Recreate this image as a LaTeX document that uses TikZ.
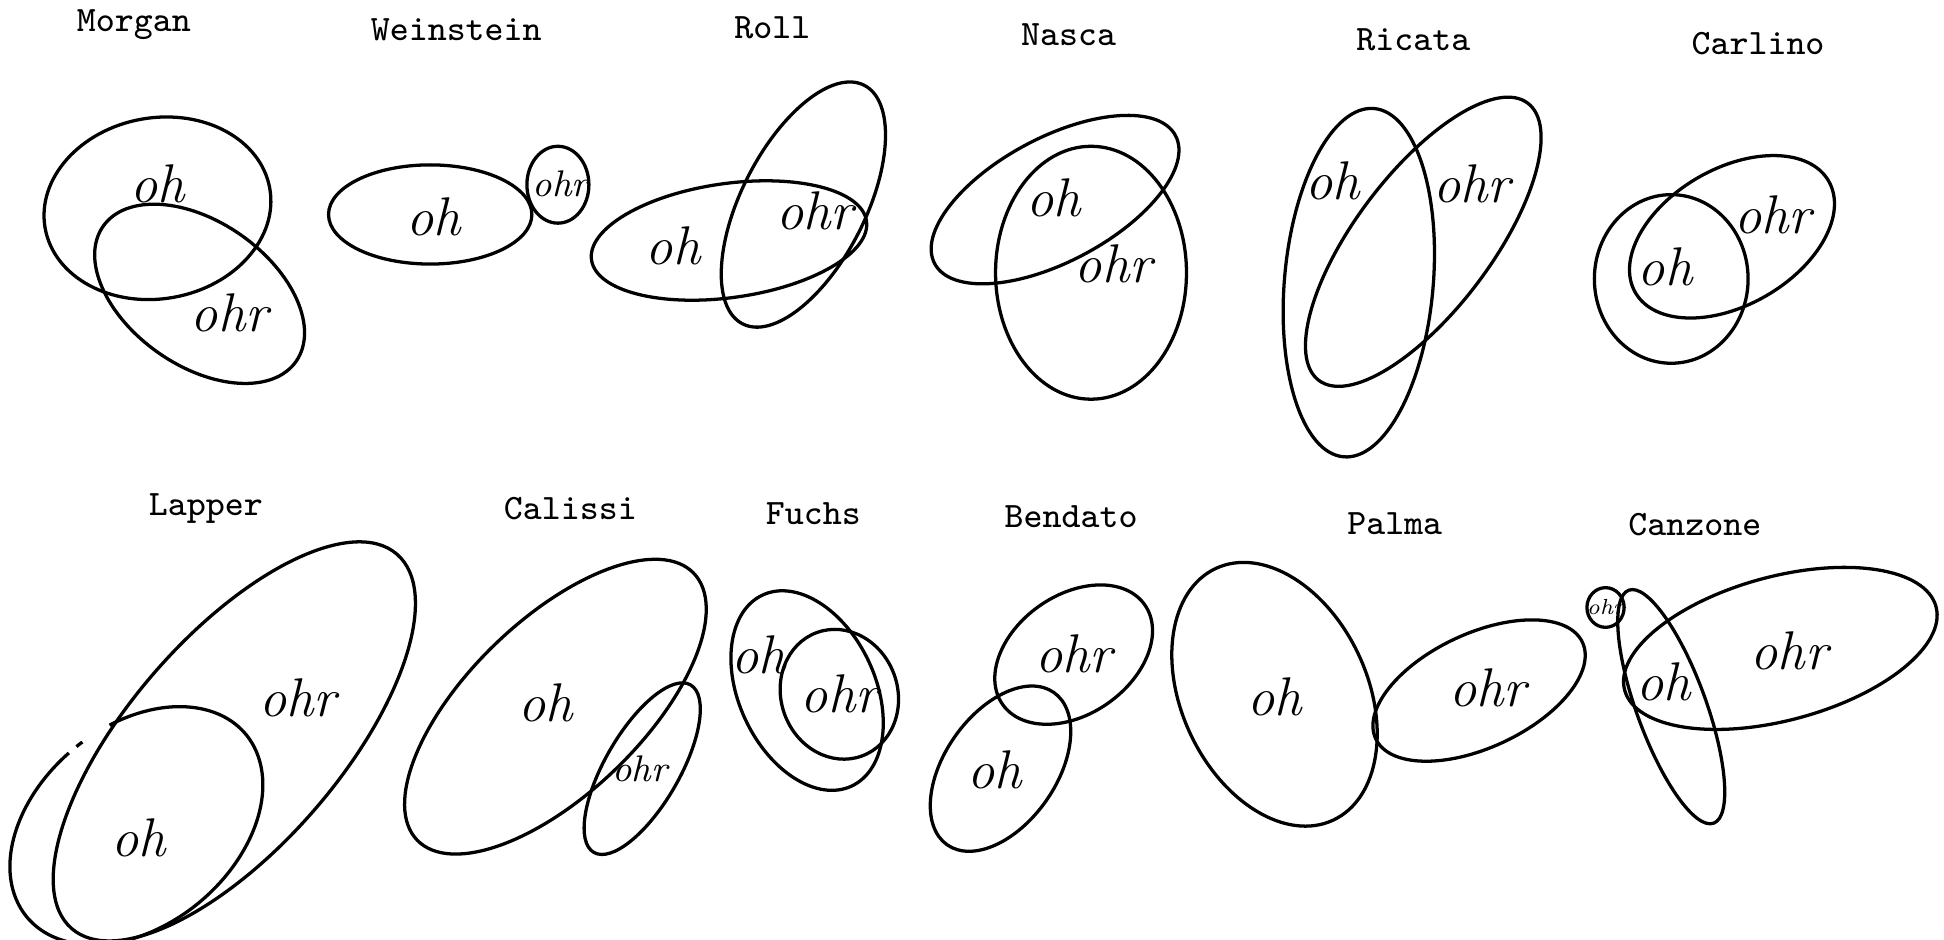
\documentclass[tikz,border=0pt]{standalone}
\usepackage{fontspec}
\tikzset{
  blob/.style={line width=0.75pt},
  who/.style={font=\ttfamily\fontsize{8.2}{10}\selectfont},
  hand/.style={font=\itshape\fontsize{12.5}{14}\selectfont, inner sep=0pt},
  smallhand/.style={font=\itshape\fontsize{8.5}{10}\selectfont, inner sep=0pt},
}
\begin{document}
\begin{tikzpicture}[x=0.01cm,y=-0.01cm]
  \useasboundingbox (0,0) rectangle (1568,758);
  \foreach \x/\y/\nm in {108/20/Morgan,368/24/Weinstein,623/22/Roll,862/28/Nasca,1140/32/Ricata,1418/35/Carlino,
      166/410/Lapper,460/410/Calissi,656/414/Fuchs,864/417/Bendato,1125/422/Palma,1367/423/Canzone}{%
    \node[who] (t\nm) at (\x,\y) {\nm};
  }
  % ellipses: centre x/y, radii, tilt
  \foreach \x/\y/\a/\b/\r in {127/168/92/73/10, 161/237/95/58/-35,
      347/173/82/40/0, 450/149/25/31/0,
      588/194/112/46/8, 648/165/108/50/63,
      851/161/110/50/28, 880/220/77/102/0,
      1096/228/60/141/-5, 1148/195/140/55/53,
      1348/225/62/68/0, 1397/191/90/55/30,
      189/598/200/85/49,
      448/570/155/70/44, 518/620/78/30/60,
      651/557/85/55/115, 677/560/53/47/110,
      866/528/70/48/35, 807/620/75/45/55,
      1028/560/112/75/115, 1193/557/92/46/25,
      1295/490/15/16/0, 1348/570/100/28/110, 1436/523/130/58/15}{%
    \draw[blob,rotate around={\r:(\x,\y)}] (\x,\y) ellipse[x radius=\a, y radius=\b];
  }
  \draw[blob,rotate around={40:(110,666)}] (110,666) ++(-72:115 and 80)
    arc[start angle=-72, end angle=268, x radius=115, y radius=80];
  \draw[blob,rotate around={40:(110,666)}] (110,666) ++(-88:115 and 80)
    arc[start angle=-88, end angle=-85, x radius=115, y radius=80];
  % labels
  \node[hand] (morgan-oh) at (127,148) {oh};
  \node[hand] (morgan-ohr) at (185,252) {ohr};
  \node[hand] (weinstein-oh) at (350,175) {oh};
  \node[smallhand] (weinstein-ohr) at (452,148) {ohr};
  \node[hand] (roll-oh) at (543,198) {oh};
  \node[hand] (roll-ohr) at (657,170) {ohr};
  \node[hand] (nasca-oh) at (850,160) {oh};
  \node[hand] (nasca-ohr) at (898,213) {ohr};
  \node[hand] (ricata-oh) at (1075,146) {oh};
  \node[hand] (ricata-ohr) at (1187,148) {ohr};
  \node[hand] (carlino-oh) at (1343,215) {oh};
  \node[hand] (carlino-ohr) at (1430,173) {ohr};
  \node[hand] (lapper-ohr) at (240,563) {ohr};
  \node[hand] (lapper-oh) at (112,676) {oh};
  \node[hand] (calissi-oh) at (440,567) {oh};
  \node[smallhand] (calissi-ohr) at (516,620) {ohr};
  \node[hand] (fuchs-oh) at (612,528) {oh};
  \node[hand] (fuchs-ohr) at (677,560) {ohr};
  \node[hand] (bendato-ohr) at (866,527) {ohr};
  \node[hand] (bendato-oh) at (802,621) {oh};
  \node[hand] (palma-oh) at (1028,562) {oh};
  \node[hand] (palma-ohr) at (1200,555) {ohr};
  \node[font=\itshape\fontsize{5}{6}\selectfont,inner sep=0pt] (canzone-ohr1) at (1295,490) {ohr};
  \node[hand] (canzone-oh) at (1342,550) {oh};
  \node[hand] (canzone-ohr) at (1443,525) {ohr};
\end{tikzpicture}
\end{document}
